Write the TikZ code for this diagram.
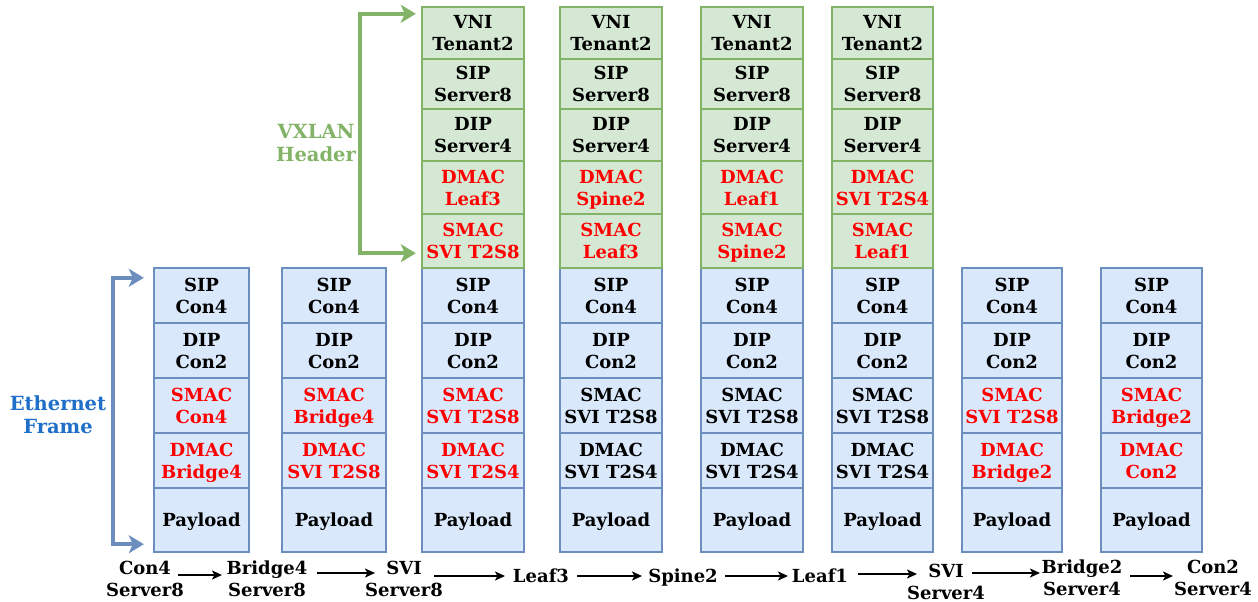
\documentclass[tikz,border=0pt]{standalone}
\usepackage{fontspec}
\setmainfont{DejaVu Serif}
\usetikzlibrary{arrows.meta,calc}

\definecolor{ethfill}{HTML}{DAE8FC}
\definecolor{ethline}{HTML}{6C8EBF}
\definecolor{vxfill}{HTML}{D5E8D4}
\definecolor{vxline}{HTML}{82B366}
\definecolor{hot}{HTML}{FF0000}
\definecolor{ethtitle}{HTML}{1F6FC8}

\tikzset{
  txt/.style={font=\bfseries\fontsize{18}{22}\selectfont, align=center, inner sep=0pt, text depth=0pt},
  title/.style={font=\bfseries\fontsize{19.5}{23}\selectfont, align=center, inner sep=0pt, text depth=0pt},
  cell/.style={txt, draw, line width=2.4pt},
  ethcell/.style={cell, fill=ethfill, draw=ethline},
  vxcell/.style={cell, fill=vxfill, draw=vxline},
  hop/.style={txt},
  flow/.style={-{Stealth[length=10pt,width=9pt,inset=2.5pt]}, line width=1.8pt, black},
  bracket/.style={{Stealth[length=15pt,width=18pt,inset=4pt]}-{Stealth[length=15pt,width=18pt,inset=4pt]}, line width=3.6pt},
}

% one Ethernet frame column: name, x centre, width, SMAC, SMAC colour, DMAC, DMAC colour
\newcommand\ethcol[7]{%
  \node[ethcell, minimum width=#3pt, minimum height=55pt] (#1-sip) at (#2,295.5) {SIP\\Con4};
  \node[ethcell, minimum width=#3pt, minimum height=55pt] (#1-dip) at (#2,350.5) {DIP\\Con2};
  \node[ethcell, minimum width=#3pt, minimum height=55pt, text=#5] (#1-smac) at (#2,405.5) {SMAC\\#4};
  \node[ethcell, minimum width=#3pt, minimum height=55pt, text=#7] (#1-dmac) at (#2,460.5) {DMAC\\#6};
  \node[ethcell, minimum width=#3pt, minimum height=64pt] (#1-pay) at (#2,520) {Payload};
}
% one VXLAN header column: name, x centre, width, DMAC, SMAC
\newcommand\vxcol[5]{%
  \node[vxcell, minimum width=#3pt, minimum height=52pt] (#1-vni) at (#2,33) {VNI\\Tenant2};
  \node[vxcell, minimum width=#3pt, minimum height=50pt] (#1-sip) at (#2,84) {SIP\\Server8};
  \node[vxcell, minimum width=#3pt, minimum height=52pt] (#1-dip) at (#2,135) {DIP\\Server4};
  \node[vxcell, minimum width=#3pt, minimum height=53pt, text=hot] (#1-dmac) at (#2,187.5) {DMAC\\#4};
  \node[vxcell, minimum width=#3pt, minimum height=54pt, text=hot] (#1-smac) at (#2,241) {SMAC\\#5};
}

\begin{document}
\begin{tikzpicture}[x=1pt,y=-1pt]
  \useasboundingbox (0,0) rectangle (1258,602);
  \fill[white] (0,0) rectangle (1258,602);

  % Ethernet frames along the path
  \ethcol{c1}{201.5}{95}{Con4}{hot}{Bridge4}{hot}
  \ethcol{c2}{334}{104}{Bridge4}{hot}{SVI T2S8}{hot}
  \ethcol{c3}{473}{102}{SVI T2S8}{hot}{SVI T2S4}{hot}
  \ethcol{c4}{611}{102}{SVI T2S8}{black}{SVI T2S4}{black}
  \ethcol{c5}{752}{102}{SVI T2S8}{black}{SVI T2S4}{black}
  \ethcol{c6}{882.5}{101}{SVI T2S8}{black}{SVI T2S4}{black}
  \ethcol{c7}{1012}{100}{SVI T2S8}{hot}{Bridge2}{hot}
  \ethcol{c8}{1151.5}{101}{Bridge2}{hot}{Con2}{hot}

  % VXLAN headers across the fabric
  \vxcol{v3}{473}{102}{Leaf3}{SVI T2S8}
  \vxcol{v4}{611}{102}{Spine2}{Leaf3}
  \vxcol{v5}{752}{102}{Leaf1}{Spine2}
  \vxcol{v6}{882.5}{101}{SVI T2S4}{Leaf1}

  % titles and brackets
  \node[title, text=ethtitle] (ethname) at (58,415) {Ethernet\\Frame};
  \node[title, text=vxline] (vxname) at (316,143) {VXLAN\\Header};
  \draw[bracket, ethline] ($(c1-sip.north west)+(-9,11)$) -- ++(-31,0) |- ($(c1-pay.south west)+(-9,-9)$);
  \draw[bracket, vxline] ($(v3-vni.north west)+(-5,8)$) -- ++(-56,0) |- ($(v3-smac.south west)+(-5,-16)$);

  % hops
  \node[hop] (h1) at (145,579) {Con4\\Server8};
  \node[hop] (h2) at (267,579) {Bridge4\\Server8};
  \node[hop] (h3) at (404,579) {SVI\\Server8};
  \node[hop] (h4) at (541,576) {Leaf3};
  \node[hop] (h5) at (683,576) {Spine2};
  \node[hop] (h6) at (820,576) {Leaf1};
  \node[hop] (h7) at (946,582) {SVI\\Server4};
  \node[hop] (h8) at (1082,578) {Bridge2\\Server4};
  \node[hop] (h9) at (1213,578) {Con2\\Server4};

  \draw[flow] ($(h1)+(33,-4)$) -- ($(h2)+(-45,-4)$);
  \draw[flow] ($(h2)+(50,-6)$) -- ($(h3)+(-29,-6)$);
  \draw[flow] ($(h3)+(30,-3)$) -- ($(h4)+(-36,0)$);
  \draw[flow] ($(h4)+(36,0)$) -- ($(h5)+(-41,0)$);
  \draw[flow] ($(h5)+(42,0)$) -- ($(h6)+(-32,0)$);
  \draw[flow] ($(h6)+(38,-2)$) -- ($(h7)+(-29,-8)$);
  \draw[flow] ($(h7)+(26,-9)$) -- ($(h8)+(-42,-5)$);
  \draw[flow] ($(h8)+(48,-2)$) -- ($(h9)+(-40,-2)$);
\end{tikzpicture}
\end{document}
